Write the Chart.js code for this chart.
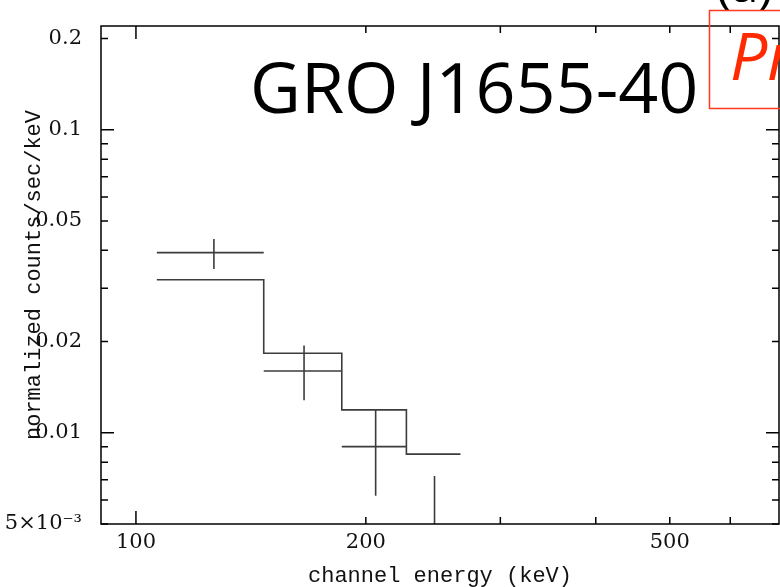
<!DOCTYPE html>
<html>
<head>
<meta charset="utf-8">
<script src="https://cdn.jsdelivr.net/npm/chart.js@4.4.1/dist/chart.umd.min.js"></script>
<style>
  html, body { margin: 0; padding: 0; background: #fff; overflow: hidden; }
  #wrap { width: 780px; height: 587px; position: relative; }
</style>
</head>
<body>
<div id="wrap"><canvas id="spec"></canvas></div>
<script>
// channel bins (keV)
const binLo = [106.5, 147, 186, 226];
const binHi = [147, 186, 226, 266];
const binMid = [126.5, 166, 206, 246];

// measured rate (normalized counts/sec/keV) and its error range
const rate = [0.0393, 0.0160, 0.0090, 0.0045];
const rateLo = [0.0347, 0.0128, 0.0062, 0.0020];
const rateHi = [0.0436, 0.0194, 0.0119, 0.0072];

// folded model, one level per bin
const model = [0.0320, 0.0183, 0.0119, 0.0085];

const xTickValues = [100, 200, 300, 400, 500, 600];
const xTickLabels = ['100', '200', '', '', '500', ''];
const xMajor = [100];

const yTickValues = [0.005, 0.006, 0.007, 0.008, 0.009, 0.01, 0.02, 0.03, 0.04,
  0.05, 0.06, 0.07, 0.08, 0.09, 0.1, 0.2];
const yTickLabels = ['5×10⁻³', '', '', '', '', '0.01', '0.02', '', '',
  '0.05', '', '', '', '', '0.1', '0.2'];
const yMajor = [0.01, 0.1];

// model as a step line: one point per left edge, plus the last right edge
const stepPoints = binLo.map((x, i) => ({ x, y: model[i] }));
stepPoints.push({ x: binHi[binHi.length - 1], y: model[model.length - 1] });

// error crosses, separated by null gaps
const barPoints = [];
binMid.forEach((x, i) => {
  barPoints.push({ x: binLo[i], y: rate[i] }, { x: binHi[i], y: rate[i] }, { x: binHi[i], y: null });
  barPoints.push({ x, y: rateLo[i] }, { x, y: rateHi[i] }, { x, y: null });
});

const framePlugin = {
  id: 'frame',
  afterDatasetsDraw(chart) {
    const { ctx, chartArea: a, scales: { x, y } } = chart;
    ctx.save();
    ctx.strokeStyle = '#000';
    ctx.lineWidth = 1.5;
    ctx.strokeRect(a.left, a.top, a.right - a.left, a.bottom - a.top);
    ctx.beginPath();
    xTickValues.forEach((v) => {
      const px = x.getPixelForValue(v);
      const len = xMajor.includes(v) ? 13 : 7;
      ctx.moveTo(px, a.bottom);
      ctx.lineTo(px, a.bottom - len);
      ctx.moveTo(px, a.top);
      ctx.lineTo(px, a.top + len);
    });
    yTickValues.forEach((v) => {
      const py = y.getPixelForValue(v);
      const len = yMajor.includes(v) ? 13 : 7;
      ctx.moveTo(a.left, py);
      ctx.lineTo(a.left + len, py);
      ctx.moveTo(a.right, py);
      ctx.lineTo(a.right - len, py);
    });
    ctx.stroke();
    ctx.restore();
  },
};

const notesPlugin = {
  id: 'notes',
  afterDraw(chart) {
    const ctx = chart.ctx;
    ctx.save();
    ctx.textBaseline = 'alphabetic';
    ctx.textAlign = 'left';

    ctx.fillStyle = '#000';
    ctx.font = '70px "Open Sans"';
    ctx.fillText('GRO J1655-40', 250, 113);

    ctx.font = '50px "Open Sans"';
    ctx.fillText('(a)', 716, 2);

    ctx.strokeStyle = '#ff3b1f';
    ctx.lineWidth = 1.5;
    ctx.strokeRect(709.5, 10.5, 200, 98);

    ctx.fillStyle = '#ff2a00';
    ctx.font = 'italic 66px "Open Sans"';
    ctx.fillText('Preliminary', 730, 80);
    ctx.restore();
  },
};

const lineStyle = {
  showLine: true,
  borderColor: '#3c3c3c',
  borderWidth: 1.6,
  pointRadius: 0,
  spanGaps: false,
  fill: false,
};

new Chart(document.getElementById('spec'), {
  type: 'scatter',
  plugins: [framePlugin, notesPlugin],
  data: {
    datasets: [
      { ...lineStyle, label: 'model', data: stepPoints, stepped: 'before' },
      { ...lineStyle, label: 'data', data: barPoints },
    ],
  },
  options: {
    responsive: true,
    maintainAspectRatio: false,
    animation: false,
    layout: { padding: { top: 26, right: 1, left: 0, bottom: 0 } },
    plugins: {
      legend: { display: false },
      tooltip: { enabled: false },
    },
    scales: {
      x: {
        type: 'logarithmic',
        min: 90,
        max: 695,
        grid: { display: false, drawTicks: false },
        border: { display: false },
        afterBuildTicks: (axis) => { axis.ticks = xTickValues.map((value) => ({ value })); },
        afterFit: (axis) => {
          axis.height = 63;
          axis.paddingLeft = 0;
          axis.paddingRight = 0;
        },
        ticks: {
          autoSkip: false,
          maxRotation: 0,
          padding: 6,
          color: '#111',
          font: { family: 'DejaVu Serif', size: 21 },
          callback: (v, i) => xTickLabels[i],
        },
        title: {
          display: true,
          text: 'channel energy (keV)',
          color: '#111',
          font: { family: 'Liberation Mono', size: 22, lineHeight: 1 },
          padding: 0,
        },
      },
      y: {
        type: 'logarithmic',
        min: 0.005,
        max: 0.22,
        grid: { display: false, drawTicks: false },
        border: { display: false },
        afterBuildTicks: (axis) => { axis.ticks = yTickValues.map((value) => ({ value })); },
        afterFit: (axis) => {
          axis.width = 101;
          axis.paddingTop = 0;
          axis.paddingBottom = 0;
        },
        ticks: {
          autoSkip: false,
          padding: 19,
          color: '#111',
          font: { family: 'DejaVu Serif', size: 21 },
          callback: (v, i) => yTickLabels[i],
        },
        title: {
          display: true,
          text: 'normalized counts/sec/keV',
          color: '#111',
          font: { family: 'Liberation Mono', size: 22, lineHeight: 1 },
          padding: { top: 23, bottom: 0 },
        },
      },
    },
  },
});
</script>
</body>
</html>
